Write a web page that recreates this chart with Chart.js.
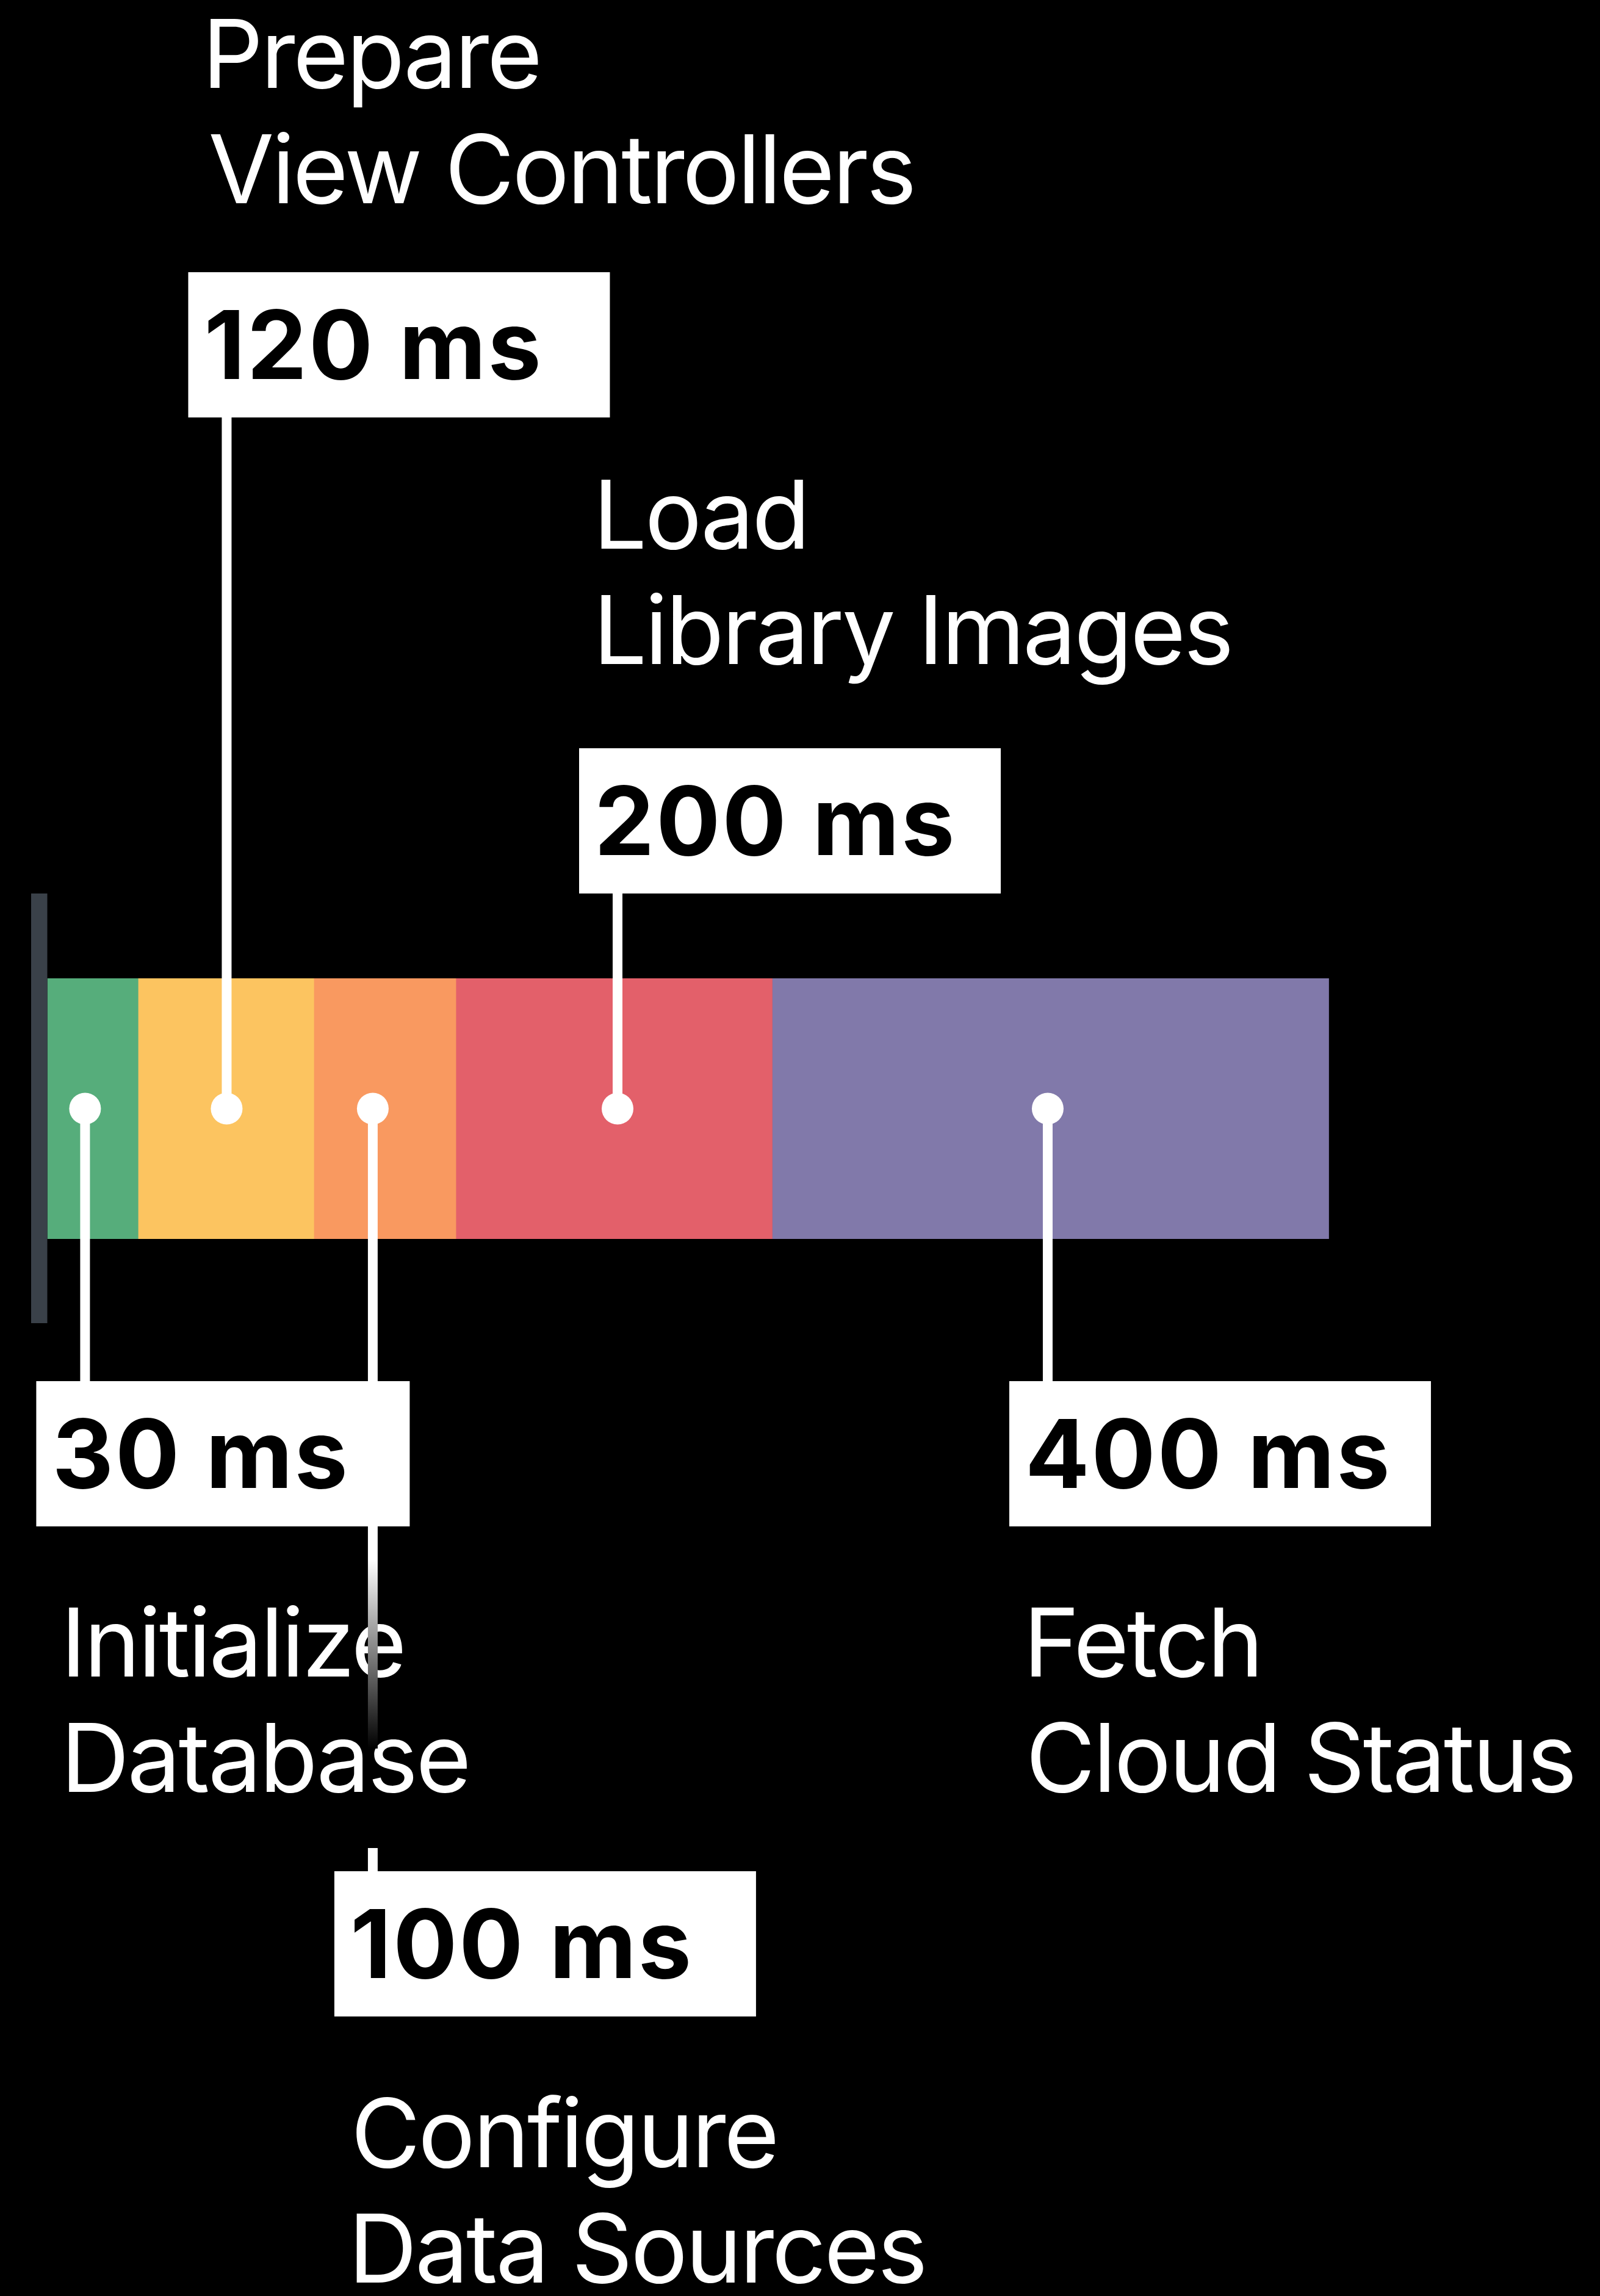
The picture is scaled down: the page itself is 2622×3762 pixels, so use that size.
<!DOCTYPE html>
<html lang="en">
<head>
<meta charset="UTF-8">
<title>Launch time breakdown</title>
<style>
  html, body { margin: 0; padding: 0; background: #000; }
  canvas { display: block; }
</style>
<script src="https://cdn.jsdelivr.net/npm/chart.js"></script>
</head>
<body>
<canvas id="launchChart" width="2622" height="3762"></canvas>
<script>
// steps from left to right along the bar
const stepNames = [
  ['Initialize', 'Database'],
  ['Prepare', 'View Controllers'],
  ['Configure', 'Data Sources'],
  ['Load', 'Library Images'],
  ['Fetch', 'Cloud Status']
];
const durationLabels = ['30 ms', '120 ms', '100 ms', '200 ms', '400 ms'];
// segment lengths as drawn (the picture is not to scale with the ms labels)
const segmentLengths = [62, 120, 97, 216, 380];
const axisMax = 1000;
const colors = ['#56ad7b', '#fcc460', '#f99960', '#e3606a', '#8179aa'];

// callout layout: which side, where the pin sits inside its segment, box + text rows
const callouts = [
  { side: 'below', pin: 0.416, boxTop: 2263, boxW: 612, boxShift: -80, textY: 2747 },
  { side: 'above', pin: 0.504, boxTop: 446, boxW: 691, textY: 144 },
  { side: 'below', pin: 0.415, boxTop: 3066, boxW: 691, textY: 3551, fadeThrough: true },
  { side: 'above', pin: 0.511, boxTop: 1226, boxW: 691, textY: 899 },
  { side: 'below', pin: 0.495, boxTop: 2263, boxW: 691, textY: 2747 }
];

const BOX_H = 238;
const LINE_GAP = 189;
const textFont = '400 156px Inter, "Noto Sans", sans-serif';
const numFont = '700 156px Inter, "Noto Sans", sans-serif';

function drawLeft(ctx, str, left, baseline) {
  const m = ctx.measureText(str);
  ctx.fillText(str, left + m.actualBoundingBoxLeft, baseline);
}

const calloutPlugin = {
  id: 'callouts',
  afterDatasetsDraw(chart) {
    const ctx = chart.ctx;
    const area = chart.chartArea;
    const xs = chart.scales.x;
    const midY = (area.top + area.bottom) / 2;

    ctx.save();
    // start marker on the left of the bar
    ctx.fillStyle = '#3a4149';
    ctx.fillRect(area.left - 26.5, area.top - 139, 26.5, (area.bottom - area.top) + 277);

    let start = 0;
    const pins = segmentLengths.map((len, i) => {
      const x = xs.getPixelForValue(start + len * callouts[i].pin);
      start += len;
      return x;
    });

    // leader lines
    ctx.fillStyle = '#fff';
    callouts.forEach((c, i) => {
      const x = pins[i];
      if (c.side === 'above') {
        ctx.fillRect(x - 8, c.boxTop + BOX_H, 16, midY - (c.boxTop + BOX_H));
      } else if (c.fadeThrough) {
        ctx.fillRect(x - 8, midY, 16, 2555 - midY);
      } else {
        ctx.fillRect(x - 8, midY, 16, c.boxTop - midY);
      }
    });

    // value boxes
    ctx.font = numFont;
    ctx.letterSpacing = '3px';
    callouts.forEach((c, i) => {
      const bx = c.boxShift ? pins[i] + c.boxShift : pins[i] - 63;
      ctx.fillStyle = '#fff';
      ctx.fillRect(bx, c.boxTop, c.boxW, BOX_H);
      ctx.fillStyle = '#000';
      drawLeft(ctx, durationLabels[i], bx + 33, c.boxTop + 175);
    });

    // step names
    ctx.fillStyle = '#fff';
    ctx.font = textFont;
    ctx.letterSpacing = '-3.5px';
    callouts.forEach((c, i) => {
      stepNames[i].forEach((line, k) => {
        drawLeft(ctx, line, pins[i] - 27, c.textY + k * LINE_GAP);
      });
    });
    ctx.letterSpacing = '0px';

    // the long leader fades out behind the text and picks up again at its box
    callouts.forEach((c, i) => {
      if (!c.fadeThrough) return;
      const x = pins[i];
      const g = ctx.createLinearGradient(0, 2555, 0, 2865);
      g.addColorStop(0, '#fff');
      g.addColorStop(1, '#000');
      ctx.fillStyle = g;
      ctx.fillRect(x - 8, 2555, 16, 310);
      ctx.fillStyle = '#fff';
      ctx.fillRect(x - 8, 3028, 16, c.boxTop - 3028);
    });

    // pins
    ctx.fillStyle = '#fff';
    pins.forEach(x => {
      ctx.beginPath();
      ctx.arc(x, midY, 26, 0, Math.PI * 2);
      ctx.fill();
    });
    ctx.restore();
  }
};

new Chart(document.getElementById('launchChart'), {
  type: 'bar',
  data: {
    labels: ['launch'],
    datasets: segmentLengths.map((v, i) => ({
      label: durationLabels[i],
      data: [v],
      backgroundColor: colors[i],
      borderWidth: 0,
      barPercentage: 1,
      categoryPercentage: 1
    }))
  },
  options: {
    indexAxis: 'y',
    responsive: false,
    animation: false,
    devicePixelRatio: 1,
    layout: { padding: { left: 77.5, right: 144.5, top: 1603, bottom: 1732 } },
    plugins: { legend: { display: false }, tooltip: { enabled: false } },
    scales: {
      x: { stacked: true, min: 0, max: axisMax, display: false },
      y: { stacked: true, display: false }
    }
  },
  plugins: [calloutPlugin]
});
</script>
</body>
</html>
